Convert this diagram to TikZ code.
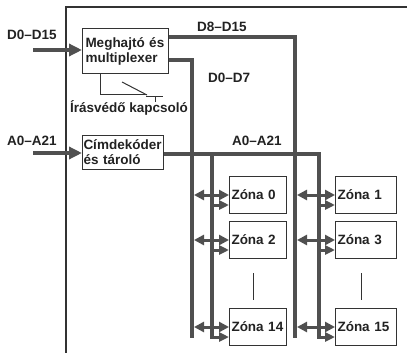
\documentclass[tikz,border=0pt]{standalone}
\usepackage{fontspec}
\setmainfont{Liberation Sans}
\usetikzlibrary{arrows.meta}
\definecolor{busgray}{HTML}{505050}
\definecolor{linegray}{HTML}{333333}
\definecolor{txtgray}{HTML}{222222}
\newcommand{\lab}{\fontsize{13.5}{15}\selectfont\bfseries}
\begin{document}
\begin{tikzpicture}[x=1pt,y=-1pt,
  bus/.style={line width=4pt, draw=busgray, line join=miter},
  thinline/.style={line width=1pt, draw=linegray},
  frameline/.style={line width=1.1pt, draw=linegray},
  box/.style={thinline, inner xsep=3pt, inner ysep=0pt, anchor=north west, align=left, font=\lab, text=txtgray},
  lab/.style={font=\lab, text=txtgray, inner sep=0pt, anchor=base west},
  busarrow/.style={line width=4pt, draw=busgray, fill=busgray, -{Triangle[length=13pt,width=12pt]}},
  zarrow/.style={line width=3pt, draw=busgray, fill=busgray, {Triangle[length=10pt,width=10pt]}-{Triangle[length=10pt,width=10pt]}},
  sarrow/.style={line width=3pt, draw=busgray, fill=busgray, -{Triangle[length=10pt,width=9pt]}},
]
\useasboundingbox (0,0) rectangle (407,353);
% frame
\coordinate (fr1) at (407,7);
\coordinate (fr2) at (66,7);
\coordinate (fr3) at (66,353);
\draw[frameline] (fr1) -- (fr2) -- (fr3);

% boxes
\node[box, minimum width=86pt, minimum height=45pt, text width=80pt] (mux) at (82,28) {Meghajtó és\\multiplexer};
\node[box, minimum width=81pt, minimum height=34pt, text width=79pt, inner xsep=1pt] (cim) at (82,135) {Címdekóder\\és tároló};

% zones
\foreach \n/\x/\t/\w in {0/229/176/53, 2/229/221/53, 14/229/308/53, 1/335/176/57, 3/335/221/57, 15/335/308/57}
  \node[box, inner xsep=2pt, minimum height=37pt, text width=\w pt] (z\n) at (\x,\t) {\mbox{Zóna \n}};

% labels
\node[lab] (ld) at (7,40) {D0–D15};
\node[lab] (la) at (7,145) {A0–A21};
\node[lab] (ld8) at (197,32) {D8–D15};
\node[lab] (ld0) at (208,82) {D0–D7};
\node[lab] (la2) at (232,145) {A0–A21};
\node[lab] (lsw) at (70,112) {Írásvédő kapcsoló};

% input arrows
\coordinate (din) at (33,50);
\coordinate (ain) at (33,153);
\draw[busarrow] (din) -- (mux.west |- din);
\draw[busarrow] (ain) -- (cim.west |- ain);

% data buses
\coordinate (d8c) at (295,37);
\coordinate (d8e) at (295,338);
\coordinate (d0c) at (192,60);
\coordinate (d0e) at (192,338);
\draw[bus] (mux.east |- d8c) -- (d8c) -- (d8e);
\draw[bus] (mux.east |- d0c) -- (d0c) -- (d0e);

% address bus
\coordinate (ac) at (319,154);
\coordinate (ab) at (212,154);
\draw[bus] (cim.east |- ac) -- (ac) -- ([yshift=7.5pt]ac |- z15.south west);
\draw[bus] (ab) -- ([yshift=7.5pt]ab |- z14.south west);

% zone arrows
\foreach \n in {0,2,14} {
  \draw[zarrow] ([xshift=2pt]d0c |- z\n.west) -- (z\n.west);
  \draw[sarrow] ([xshift=-2pt,yshift=9pt]ab |- z\n.south west) -- ([yshift=9pt]z\n.south west);
}
\foreach \n in {1,3,15} {
  \draw[zarrow] ([xshift=2pt]d8c |- z\n.west) -- (z\n.west);
  \draw[sarrow] ([xshift=-2pt,yshift=9pt]ac |- z\n.south west) -- ([yshift=9pt]z\n.south west);
}

% ellipsis lines
\draw[thinline, shorten <=14pt, shorten >=8pt] ([xshift=-4.5pt]z2.south) -- ([xshift=-4.5pt]z14.north);
\draw[thinline, shorten <=14pt, shorten >=8pt] ([xshift=-4.5pt]z3.south) -- ([xshift=-4.5pt]z15.north);

% write-protect switch
\coordinate (sw1) at (147,94);
\coordinate (sw2) at (122,82);
\coordinate (sw3) at (147,95);
\coordinate (sw4) at (146,96);
\coordinate (sw5) at (163,96);
\coordinate (sw6) at (155,96);
\coordinate (sw7) at (155,102);
\draw[thinline] ([xshift=18pt]mux.south west) |- (sw1);
\draw[thinline] (sw2) -- (sw3);
\draw[thinline] (sw4) -- (sw5);
\draw[thinline] (sw6) -- (sw7);
\end{tikzpicture}
\end{document}
